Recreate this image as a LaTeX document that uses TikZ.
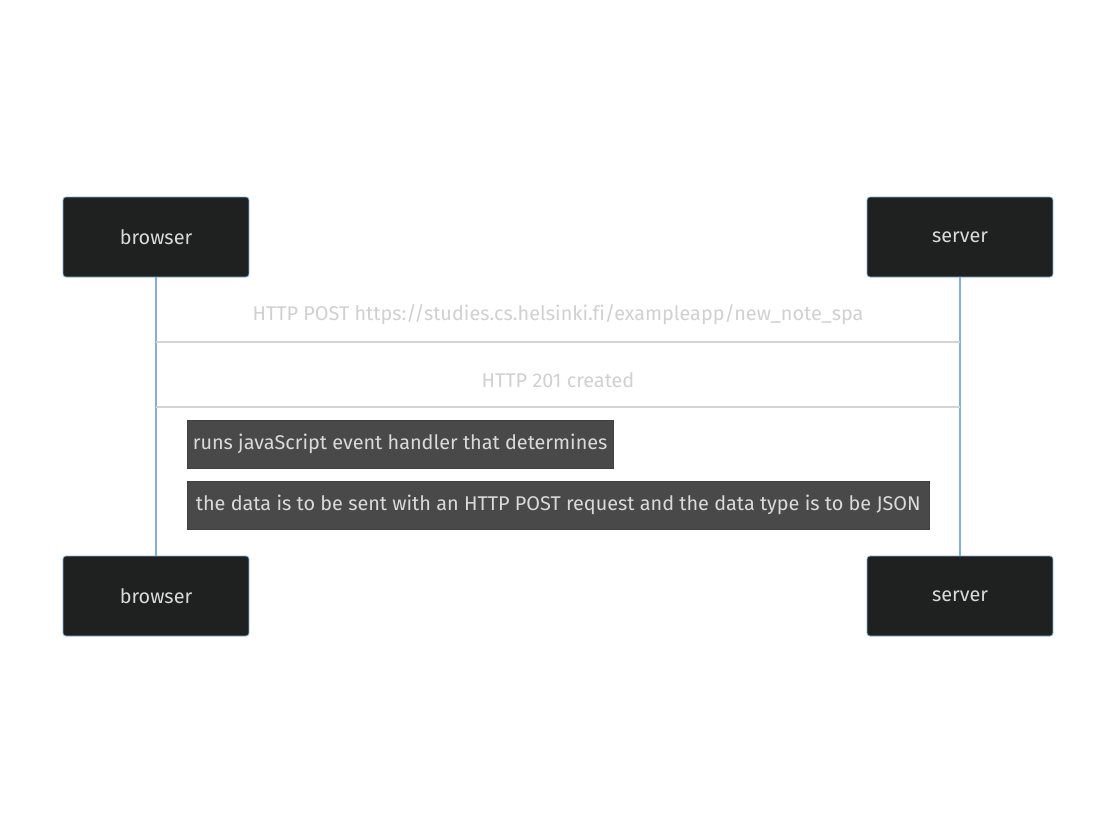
\documentclass[tikz,border=0pt]{standalone}
\usepackage{fontspec}
\setmainfont{Fira Sans}[Ligatures=NoCommon]
\usetikzlibrary{positioning, calc}
\definecolor{actorfill}{RGB}{31,32,32}
\definecolor{actorline}{RGB}{129,177,219}
\definecolor{msgline}{RGB}{212,212,212}
\definecolor{msgtext}{RGB}{208,208,208}
\definecolor{notefill}{RGB}{72,73,72}
\definecolor{notetext}{RGB}{218,218,218}

\begin{document}
\begin{tikzpicture}[x=0.02cm, y=-0.02cm, font=\fontsize{11.3}{13}\selectfont]
  \tikzset{
    actor/.style={
      rectangle, rounded corners=1.6pt,
      minimum width=3.72cm, minimum height=1.6cm,
      fill=actorfill, draw=actorline, line width=0.5pt,
      text=notetext, inner sep=0pt
    },
    msg/.style={draw=msgline, line width=1.2pt},
    msglabel/.style={text=msgtext, inner sep=0pt},
    note/.style={
      rectangle, anchor=west, minimum height=0.96cm,
      fill=notefill, draw=black!75, line width=0.4pt,
      text=notetext, inner ysep=0pt, inner xsep=0.11cm
    }
  }
  \useasboundingbox (0,0) rectangle (1116,833);
  % actors, top and bottom
  \node[actor] (b1) at (156,237) {browser};
  \node[actor] (s1) at (960,237) {server};
  \node[actor] (b2) at (156,596) {browser};
  \node[actor] (s2) at (960,596) {server};
  % lifelines
  \draw[actorline, line width=1.2pt] (b1) -- (b2);
  \draw[actorline, line width=1.2pt] (s1) -- (s2);
  % messages
  \coordinate (m1b) at (b1 |- 0,342);
  \coordinate (m1s) at (s1 |- 0,342);
  \coordinate (m2b) at (b1 |- 0,407);
  \coordinate (m2s) at (s1 |- 0,407);
  \draw[msg] (m1b) -- (m1s);
  \draw[msg] (m2s) -- (m2b);
  \node[msglabel] (l1) at (558,315) {HTTP POST https://studies.cs.helsinki.fi/exampleapp/new\_note\_spa};
  \node[msglabel] (l2) at (558,380) {HTTP 201 created};
  % notes over browser
  \node[note] (n1) at (187,444) {runs javaScript event handler that determines};
  \node[note, minimum width=14.84cm] (n2) at (187,505) {the data is to be sent with an HTTP POST request and the data type is to be JSON};
\end{tikzpicture}
\end{document}
